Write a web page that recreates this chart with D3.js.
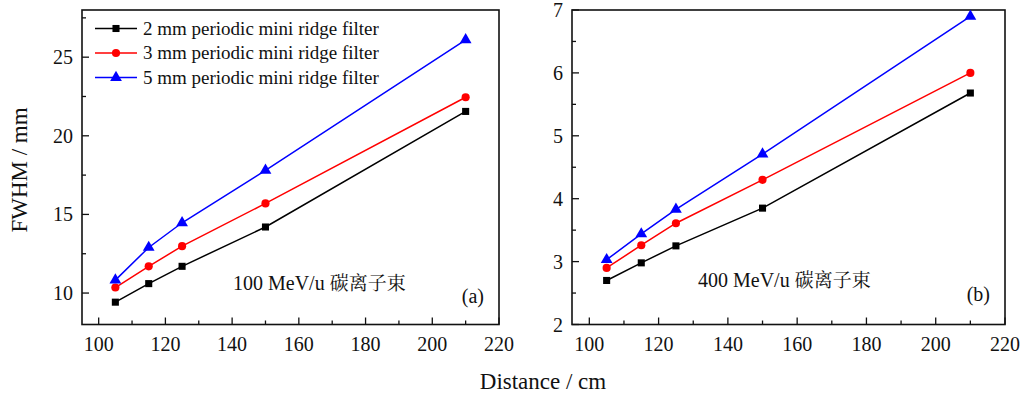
<!DOCTYPE html>
<html>
<head>
<meta charset="utf-8">
<script src="https://cdn.jsdelivr.net/npm/d3@7"></script>
</head>
<body style="margin:0">
<svg id="chart" width="1026" height="396" style="font-family: 'Times New Roman', serif;"></svg>
<script>
// Data
let distance = [105, 115, 125, 150, 210];
let seriesNames = [
    "2 mm periodic mini ridge filter",
    "3 mm periodic mini ridge filter",
    "5 mm periodic mini ridge filter",
];
let fwhm100_2mm = [9.42, 10.6, 11.7, 14.2, 21.55];
let fwhm100_3mm = [10.35, 11.7, 12.98, 15.7, 22.45];
let fwhm100_5mm = [10.82, 12.9, 14.47, 17.8, 26.1];
let fwhm400_2mm = [2.7, 2.98, 3.25, 3.85, 5.68];
let fwhm400_3mm = [2.9, 3.26, 3.61, 4.3, 6.0];
let fwhm400_5mm = [3.03, 3.44, 3.83, 4.71, 6.9];
let xTicks = [100, 120, 140, 160, 180, 200, 220];
let xMinorTicks = [110, 130, 150, 170, 190, 210];
let yTicksA = [10, 15, 20, 25];
let yMinorA = [12.5, 17.5, 22.5, 27.5];
let yTicksB = [2, 3, 4, 5, 6, 7];
let yMinorB = [2.5, 3.5, 4.5, 5.5, 6.5];

let colors = ["#000000", "#ff0000", "#0000ff"];
let symbols = [d3.symbolSquare, d3.symbolCircle, d3.symbolTriangle];
let symbolSizes = [50, 52, 60];

let svg = d3.select("#chart");

let plotTop = 10, plotBottom = 324.5;

function label(parent, size) {
    return parent.append("text")
        .style("font-family", "'Times New Roman', serif")
        .attr("font-size", size)
        .attr("fill", "#111");
}

function drawPanel(cfg) {
    let x = d3.scaleLinear().domain([95, 220]).range([cfg.left, cfg.right]);
    let y = d3.scaleLinear().domain(cfg.yDomain).range([plotBottom, plotTop]);
    let g = svg.append("g");

    // inward ticks, minor ones shorter
    let tickG = g.append("g").attr("stroke", "#111").attr("stroke-width", 1.3);
    xTicks.concat(xMinorTicks).forEach((t) => {
        let len = xTicks.includes(t) ? 7 : 4;
        tickG.append("line").attr("x1", x(t)).attr("x2", x(t))
            .attr("y1", plotBottom).attr("y2", plotBottom - len);
    });
    cfg.yTicks.concat(cfg.yMinor).forEach((t) => {
        let len = cfg.yTicks.includes(t) ? 7 : 4;
        tickG.append("line").attr("y1", y(t)).attr("y2", y(t))
            .attr("x1", cfg.left).attr("x2", cfg.left + len);
    });

    // tick labels
    xTicks.forEach((t) => {
        label(g, 20).attr("x", x(t)).attr("y", plotBottom + 26)
            .attr("text-anchor", "middle").text(t);
    });
    cfg.yTicks.forEach((t) => {
        label(g, 20).attr("x", cfg.left - 9).attr("y", y(t) + 7)
            .attr("text-anchor", "end").text(t);
    });

    // frame
    g.append("rect")
        .attr("x", cfg.left).attr("y", plotTop)
        .attr("width", cfg.right - cfg.left).attr("height", plotBottom - plotTop)
        .attr("fill", "none").attr("stroke", "#111").attr("stroke-width", 1.6);

    let line = d3.line().x((d, i) => x(distance[i])).y((d) => y(d));
    cfg.series.forEach((vals, k) => {
        g.append("path").datum(vals)
            .attr("fill", "none").attr("stroke", colors[k]).attr("stroke-width", 1.5)
            .attr("d", line);
        g.selectAll(null).data(vals).join("path")
            .attr("transform", (d, i) => `translate(${x(distance[i])},${y(d)})`)
            .attr("d", d3.symbol().type(symbols[k]).size(symbolSizes[k]))
            .attr("fill", colors[k]);
    });

    // annotation
    let ann = label(g, 20).attr("x", cfg.annX).attr("y", cfg.annY);
    ann.append("tspan").text(cfg.energy + " ");
    ann.append("tspan").style("font-family", "'Noto Serif CJK SC', serif")
        .attr("font-size", 19).text("碳离子束");
    label(g, 20).attr("x", cfg.right - 15).attr("y", cfg.tagY)
        .attr("text-anchor", "end").text(cfg.tag);
}

drawPanel({
    left: 82, right: 499, yDomain: [8, 28], yTicks: yTicksA, yMinor: yMinorA,
    series: [fwhm100_2mm, fwhm100_3mm, fwhm100_5mm],
    energy: "100 MeV/u", annX: 233, annY: 290, tag: "(a)", tagY: 303,
});
drawPanel({
    left: 572, right: 1005, yDomain: [2, 7], yTicks: yTicksB, yMinor: yMinorB,
    series: [fwhm400_2mm, fwhm400_3mm, fwhm400_5mm],
    energy: "400 MeV/u", annX: 698, annY: 287, tag: "(b)", tagY: 301,
});

// legend
let legend = svg.append("g");
seriesNames.forEach((name, k) => {
    let ly = 28.5 + k * 24.5;
    legend.append("line").attr("x1", 95).attr("x2", 137).attr("y1", ly).attr("y2", ly)
        .attr("stroke", colors[k]).attr("stroke-width", 1.5);
    legend.append("path").attr("transform", `translate(116,${ly})`)
        .attr("d", d3.symbol().type(symbols[k]).size(symbolSizes[k]))
        .attr("fill", colors[k]);
    label(legend, 19).attr("x", 143).attr("y", ly + 6).text(name);
});

// axis titles
label(svg, 23)
    .attr("transform", "translate(27,170) rotate(-90)")
    .attr("text-anchor", "middle").text("FWHM / mm");
label(svg, 23)
    .attr("x", 543).attr("y", 389)
    .attr("text-anchor", "middle").text("Distance / cm");
</script>
</body>
</html>
